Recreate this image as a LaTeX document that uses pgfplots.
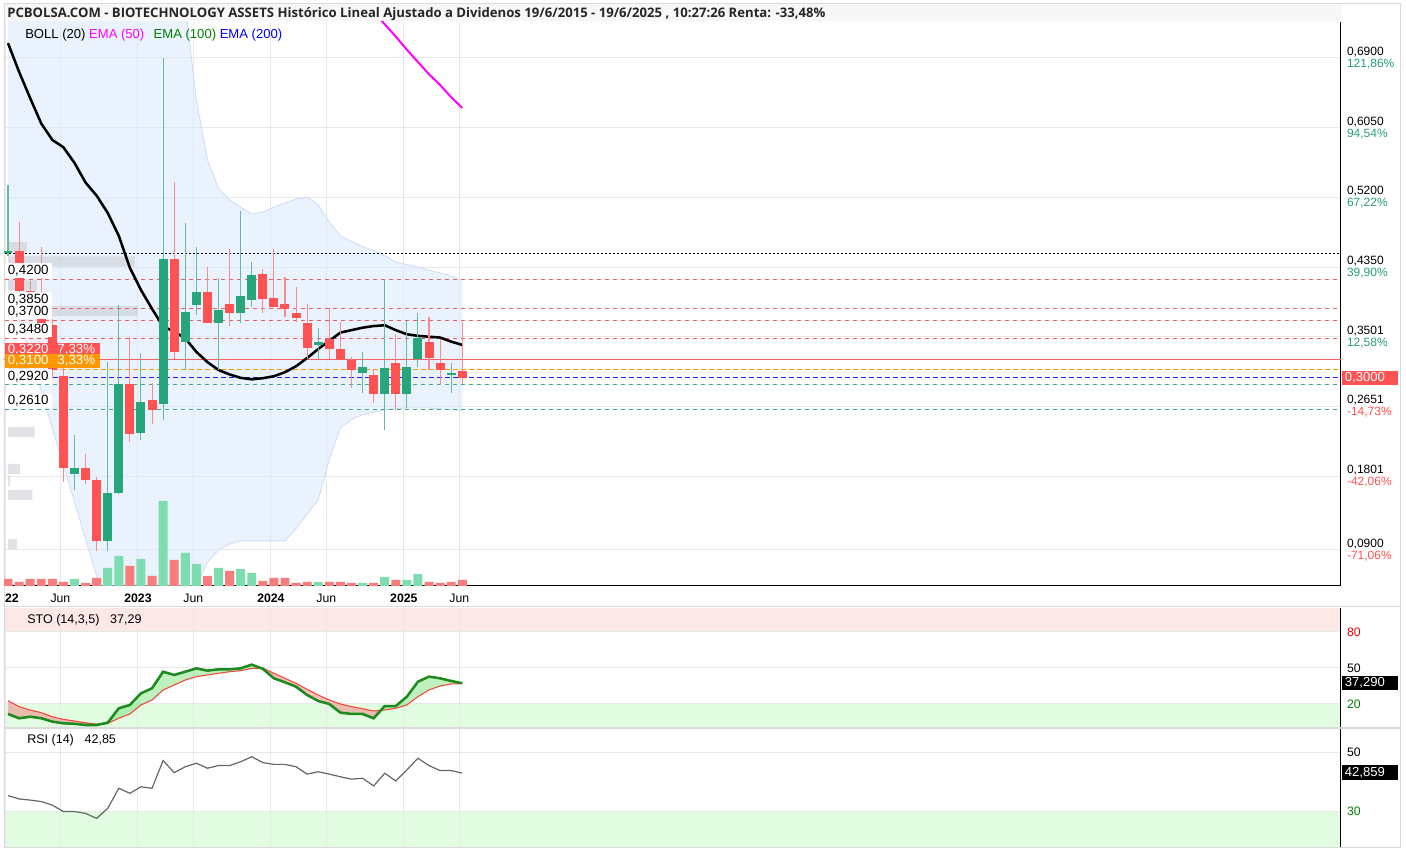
\documentclass[border=0pt]{standalone}
\usepackage{fontspec}
\setmainfont{Liberation Sans}
\newfontfamily\titlefont{Open Sans}
\usepackage{pgfplots}
\usepackage{pgfplotstable}
\pgfplotsset{compat=1.18}
\usepgfplotslibrary{fillbetween}

\definecolor{cgreen}{RGB}{38,166,122}
\definecolor{cred}{RGB}{255,82,82}
\definecolor{wgreen}{RGB}{100,188,156}
\definecolor{wred}{RGB}{246,140,140}
\definecolor{vgreen}{RGB}{125,221,176}
\definecolor{vred}{RGB}{247,125,125}
\definecolor{bollfill}{RGB}{220,233,252}
\definecolor{bolledge}{RGB}{205,220,242}
\definecolor{gridc}{RGB}{232,232,232}
\definecolor{framec}{RGB}{218,218,218}
\definecolor{pctgreen}{RGB}{38,160,115}
\definecolor{pctred}{RGB}{255,82,82}
\definecolor{lvlred}{RGB}{240,90,90}
\definecolor{lvlsolid}{RGB}{245,95,95}
\definecolor{lvlteal}{RGB}{60,170,130}
\definecolor{lvlorange}{RGB}{255,152,0}
\definecolor{lvlblue}{RGB}{30,30,230}
\definecolor{emaA}{RGB}{255,0,255}
\definecolor{emaB}{RGB}{0,128,0}
\definecolor{emaC}{RGB}{0,0,255}
\definecolor{stoK}{RGB}{28,138,28}
\definecolor{stoD}{RGB}{240,70,60}
\definecolor{pinkband}{RGB}{253,232,232}
\definecolor{greenband}{RGB}{226,252,226}
\definecolor{profile}{RGB}{200,203,210}
\definecolor{titlebg}{RGB}{247,247,247}
\definecolor{stolbl}{RGB}{230,0,0}

% monthly candles, m = months since Jan 2022 ; lo/hi = body, l/h = wick
\pgfplotstableread{
m  lo     hi     l      h
0  0.452  0.455  0.448  0.535
6  0.183  0.190  0.163  0.230
9  0.101  0.159  0.089  0.319
10 0.159  0.2924 0.158  0.389
12 0.233  0.270  0.224  0.330
14 0.268  0.445  0.248  0.690
16 0.3437 0.380  0.3095 0.489
17 0.3888 0.4046 0.3766 0.4595
19 0.3668 0.3827 0.3095 0.4217
21 0.379  0.3997 0.3668 0.5034
22 0.3949 0.4254 0.3863 0.4412
28 0.3400 0.3437 0.323  0.3607
32 0.306  0.3132 0.2815 0.3315
34 0.2802 0.312  0.236  0.4193
36 0.2802 0.3132 0.2632 0.369
37 0.3229 0.3485 0.3132 0.379
40 0.3034 0.3059 0.2815 0.318
}\greencandles

\pgfplotstableread{
m  lo     hi     l      h
1  0.406  0.455  0.400  0.490
2  0.392  0.406  0.380  0.418
3  0.366  0.390  0.355  0.4595
4  0.310  0.364  0.300  0.372
5  0.190  0.302  0.173  0.330
7  0.175  0.190  0.170  0.207
8  0.101  0.175  0.089  0.179
11 0.231  0.2924 0.222  0.350
13 0.261  0.273  0.244  0.294
15 0.331  0.445  0.323  0.539
18 0.3668 0.4046 0.3668 0.4351
20 0.379  0.390  0.363  0.457
23 0.3961 0.4266 0.379  0.4327
24 0.3863 0.3973 0.385  0.457
25 0.384  0.390  0.374  0.423
26 0.373  0.379  0.368  0.4107
27 0.3363 0.3668 0.323  0.390
29 0.3351 0.3473 0.323  0.385
30 0.3229 0.3351 0.3229 0.368
31 0.3095 0.3217 0.2876 0.3254
33 0.2802 0.3034 0.2693 0.3107
35 0.2802 0.318  0.2607 0.3534
38 0.3241 0.3437 0.3095 0.374
39 0.3095 0.318  0.2912 0.3473
41 0.300  0.3083 0.2924 0.368
}\redcandles

% volume (relative units)
\pgfplotstableread{
m v
6 7
9 18
10 30
12 27
14 85
16 33
17 22
19 18
21 17
22 13
28 4
32 3
34 9
36 6
37 12
}\volgreen

\pgfplotstableread{
m v
0 7
1 4
2 7
3 7
4 7
5 4
7 3
8 8
11 20
13 10
15 26
18 10
20 15
23 5
24 8
25 8
26 3
27 4
29 4
30 4
31 3
33 3
35 6
38 4
39 3
40 4
41 6
}\volred

% Bollinger (20)
\pgfplotstableread{
m  up     mid    lo
0  0.99   0.708  0.40
1  0.97   0.673  0.37
2  0.95   0.641  0.33
3  0.93   0.610  0.284
4  0.92   0.590  0.238
5  0.91   0.581  0.194
6  0.90   0.562  0.149
7  0.89   0.538  0.103
8  0.88   0.522  0.058
9  0.87   0.501  0.020
10 0.86   0.473  0.000
11 0.85   0.434  -0.010
12 0.83   0.407  0.000
13 0.81   0.384  0.005
14 0.79   0.3624 0.010
15 0.77   0.3563 0.015
16 0.755  0.348  0.021
17 0.639  0.3315 0.047
18 0.566  0.319  0.075
19 0.531  0.3094 0.090
20 0.517  0.304  0.097
21 0.508  0.2998 0.101
22 0.4998 0.298  0.101
23 0.502  0.2994 0.101
24 0.508  0.3018 0.101
25 0.513  0.3067 0.101
26 0.518  0.314  0.116
27 0.520  0.324  0.134
28 0.511  0.335  0.151
29 0.490  0.345  0.200
30 0.473  0.355  0.239
31 0.466  0.358  0.249
32 0.460  0.361  0.255
33 0.455  0.363  0.258
34 0.449  0.364  0.261
35 0.441  0.358  0.262
36 0.438  0.353  0.263
37 0.435  0.351  0.263
38 0.431  0.350  0.263
39 0.428  0.349  0.262
40 0.424  0.344  0.261
41 0.419  0.340  0.260
}\boll

% stochastic %K / %D and RSI
\pgfplotstableread{
m  k     d     rsi
0  11.7  22.8  35.2
1  8.1   17.8  34.1
2  9.4   15.0  33.7
3  8.1   12.8  33.2
4  5.3   9.4   32.0
5  3.9   7.2   29.8
6  3.5   5.8   29.8
7  2.5   4.4   29.2
8  2.5   3.1   27.5
9  4.4   3.9   30.9
10 16.4  8.1   37.7
11 19.2  11.7  36.0
12 28.9  19.2  38.2
13 33.1  23.3  37.7
14 46.9  31.7  47.1
15 44.2  35.8  43.0
16 46.9  40.0  45.0
17 49.7  42.8  46.2
18 47.8  44.2  44.5
19 48.9  45.6  45.4
20 48.9  46.9  45.4
21 49.7  47.8  46.7
22 52.8  49.7  48.4
23 49.3  49.9  46.4
24 41.4  45.6  45.8
25 38.1  41.4  45.8
26 34.4  37.2  45.0
27 27.5  32.2  42.5
28 22.5  27.5  43.3
29 20.0  23.3  42.5
30 12.8  20.0  41.6
31 11.7  17.8  40.8
32 11.7  16.1  41.1
33 8.1   14.2  38.5
34 18.3  15.0  42.8
35 18.3  16.4  40.2
36 26.1  19.2  43.9
37 38.6  26.1  47.9
38 42.8  31.7  45.4
39 41.4  35.0  43.7
40 39.2  36.7  43.7
41 37.3  37.0  42.85
}\osc

\pgfplotsset{
  panel/.style={
    set layers,
    scale only axis, width=1002.75pt,
    xmin=-0.361, xmax=120.31,
    axis x line*=bottom, axis y line*=right,
    y axis line style={draw=black, line width=0.75pt},
    xtick={-0.27,4.73,11.73,16.73,23.73,28.73,35.73,40.73},
    grid=major, grid style={draw=gridc, line width=0.75pt},
    tick style={draw=none},
    tick label style={font=\fontsize{9.2}{9.2}\selectfont},
    yticklabel style={anchor=west, xshift=1pt},
  },
  lvl/.style={line width=0.75pt, dash pattern=on 3pt off 3pt},
  candle/.style={forget plot, draw=none, no markers,
    error bars/.cd, y dir=plus, y explicit, error mark=none,
    error bar style={draw=#1}},
}

\begin{document}
\begin{tikzpicture}
% title bar and frame
\fill[titlebg] (3pt,623.25pt) rectangle (1006.5pt,636pt);
\draw[framec, line width=0.75pt] (3pt,3pt) rectangle (1050pt,636pt);
\draw[framec, line width=0.75pt] (3pt,183.75pt) -- (1050pt,183.75pt);
\draw[framec, line width=1pt] (3pt,93pt) -- (1050pt,93pt);
\node[anchor=west, inner sep=0pt, font=\titlefont\bfseries\fontsize{9.85}{10}\selectfont, text=black!85]
  at (5.25pt,628.6pt) {PCBOLSA.COM - BIOTECHNOLOGY ASSETS Histórico Lineal Ajustado a Dividenos 19/6/2015 - 19/6/2025 , 10:27:26 Renta: -33,48\%};

% ---------------- main price panel
\begin{axis}[panel, at={(3pt,199.5pt)}, anchor=south west, height=423pt,
  ymin=0.046, ymax=0.7338,
  x axis line style={draw=black, line width=0.75pt},
  xticklabels={\makebox[0pt][l]{\textbf{22}}, Jun, \textbf{2023}, Jun, \textbf{2024}, Jun, \textbf{2025}, Jun},
  xticklabel style={yshift=-2.5pt},
  ytick={0.09,0.1801,0.2651,0.3501,0.435,0.52,0.605,0.69},
  yticklabel style={align=left, font=\fontsize{9}{9}\selectfont},
  yticklabels={
    {0,0900\\\textcolor{pctred}{-71,06\%}},
    {0,1801\\\textcolor{pctred}{-42,06\%}},
    {0,2651\\\textcolor{pctred}{-14,73\%}},
    {0,3501\\\textcolor{pctgreen}{12,58\%}},
    {0,4350\\\textcolor{pctgreen}{39,90\%}},
    {0,5200\\\textcolor{pctgreen}{67,22\%}},
    {0,6050\\\textcolor{pctgreen}{94,54\%}},
    {0,6900\\\textcolor{pctgreen}{121,86\%}}},
]
% Bollinger band
\addplot[bolledge, line width=0.6pt, name path=bu] table[x=m, y=up] {\boll};
\addplot[bolledge, line width=0.6pt, name path=bl] table[x=m, y=lo] {\boll};
\addplot[fill=bollfill, fill opacity=0.6, draw=none] fill between[of=bu and bl];

% volume at price
\addplot[xbar, bar width=0.0125, fill=profile, fill opacity=0.55, draw=none] coordinates {
  (1.7,0.459) (11.46,0.4418) (2.6,0.4126) (11.73,0.3815) (2.0,0.3144)
  (2.4,0.2339) (1.1,0.1888) (0.2,0.174) (2.2,0.157) (0.8,0.0973)};

% volume
\addplot[ybar, bar width=0.81, fill=vgreen, draw=none] table[x=m, y expr=0.046+\thisrow{v}/820] {\volgreen};
\addplot[ybar, bar width=0.81, fill=vred, draw=none] table[x=m, y expr=0.046+\thisrow{v}/820] {\volred};

% price levels
\addplot[black, line width=0.75pt, dash pattern=on 1.5pt off 1.5pt] coordinates {(-1,0.451) (121,0.451)};
\addplot[lvlred, lvl] coordinates {(-1,0.42) (121,0.42)};
\addplot[lvlred, lvl] coordinates {(-1,0.385) (121,0.385)};
\addplot[lvlred, lvl] coordinates {(-1,0.37) (121,0.37)};
\addplot[lvlred, lvl] coordinates {(-1,0.348) (121,0.348)};
\addplot[lvlsolid, line width=0.9pt] coordinates {(-1,0.322) (121,0.322)};
\addplot[lvlorange, line width=1.1pt, dash pattern=on 3.5pt off 2.5pt] coordinates {(-1,0.31) (121,0.31)};
\addplot[lvlblue, line width=1.1pt, dash pattern=on 3.5pt off 2.5pt] coordinates {(-1,0.30) (121,0.30)};
\addplot[lvlteal, lvl] coordinates {(-1,0.292) (121,0.292)};
\addplot[lvlteal, lvl] coordinates {(-1,0.261) (121,0.261)};

% Bollinger middle
\addplot[black, line width=1.9pt] table[x=m, y=mid] {\boll};

% candles: wicks then bodies
\addplot[candle={wgreen, line width=0.8pt}]
  table[x=m, y=l, y error plus expr=\thisrow{h}-\thisrow{l}] {\greencandles};
\addplot[candle={wred, line width=0.8pt}]
  table[x=m, y=l, y error plus expr=\thisrow{h}-\thisrow{l}] {\redcandles};
\addplot[candle={cgreen, line width=6.75pt}]
  table[x=m, y=lo, y error plus expr=\thisrow{hi}-\thisrow{lo}] {\greencandles};
\addplot[candle={cred, line width=6.75pt}]
  table[x=m, y=lo, y error plus expr=\thisrow{hi}-\thisrow{lo}] {\redcandles};

% EMA (50)
\addplot[emaA, line width=1.5pt] coordinates {
  (33,0.746) (34,0.731) (35,0.716) (36,0.700) (37,0.685) (38,0.670) (39,0.657) (40,0.642) (41,0.629)};

% level labels
\begin{scope}[every node/.style={anchor=south west, inner xsep=2.4pt, inner ysep=1.3pt,
    font=\fontsize{10}{10}\selectfont}]
\node[fill=white] at (axis cs:-0.33,0.4215) {0,4200};
\node[fill=white] at (axis cs:-0.33,0.3865) {0,3850};
\node[fill=white] at (axis cs:-0.33,0.3712) {0,3700};
\node[fill=white] at (axis cs:-0.33,0.3492) {0,3480};
\node[fill=cred, text=white, align=left, text width=66.5pt] at (axis cs:-0.33,0.3245) {0,3220\ \ 7,33\%};
\node[fill=lvlorange, text=white, align=left, text width=66.5pt] at (axis cs:-0.33,0.3112) {0,3100\ \ 3,33\%};
\node[fill=white] at (axis cs:-0.33,0.2925) {0,2920};
\node[fill=white] at (axis cs:-0.33,0.2625) {0,2610};
\end{scope}
\end{axis}

% ---------------- stochastic panel
\begin{axis}[panel, at={(3pt,93pt)}, anchor=south west, height=90pt,
  ymin=0, ymax=100,
  x axis line style={draw=none},
  xticklabels={},
  ytick={20,50,80},
  yticklabels={\textcolor{emaB}{20}, 50, \textcolor{stolbl}{80}},
]
\addplot[fill=pinkband, draw=none, on layer=axis background] coordinates {(-0.361,80) (120.31,80) (120.31,100) (-0.361,100) (-0.361,80)};
\addplot[fill=greenband, draw=none, on layer=axis background] coordinates {(-0.361,0) (120.31,0) (120.31,20) (-0.361,20) (-0.361,0)};
\addplot[stoD, line width=0.8pt, name path=dp] table[x=m, y=d] {\osc};
\addplot[stoK, line width=1.9pt, name path=kp] table[x=m, y=k] {\osc};
\addplot[fill opacity=0.45, draw=none] fill between[of=kp and dp, split,
  every even segment/.style={fill={rgb,255:red,240;green,110;blue,110}},
  every odd segment/.style={fill={rgb,255:red,110;green,225;blue,110}}];
\end{axis}

% ---------------- RSI panel
\begin{axis}[panel, at={(3pt,3.75pt)}, anchor=south west, height=88.5pt,
  ymin=17.8, ymax=57.8,
  x axis line style={draw=none},
  xticklabels={},
  ytick={30,50},
  yticklabels={\textcolor{emaB}{30}, 50},
]
\addplot[fill=greenband, draw=none, on layer=axis background] coordinates {(-0.361,17.8) (120.31,17.8) (120.31,30) (-0.361,30) (-0.361,17.8)};
\addplot[black!60, line width=0.9pt] table[x=m, y=rsi] {\osc};
\end{axis}

% legends and value boxes
\node[anchor=west, inner sep=0pt, font=\fontsize{9.8}{10}\selectfont] at (18.75pt,612.75pt)
  {BOLL (20) \textcolor{emaA}{EMA (50)}\hspace{7pt}\textcolor{emaB}{EMA (100)} \textcolor{emaC}{EMA (200)}};
\node[anchor=west, inner sep=0pt, font=\fontsize{9.4}{10}\selectfont] at (20.25pt,174pt)
  {STO (14,3,5)\hspace{8pt}37,29};
\node[anchor=west, inner sep=0pt, font=\fontsize{9.4}{10}\selectfont] at (20.25pt,83.5pt)
  {RSI (14)\hspace{8pt}42,85};
\node[anchor=west, fill=cred, text=white, inner xsep=2pt, inner ysep=1.5pt, text width=38pt,
  font=\fontsize{9.8}{10}\selectfont] at (1006.5pt,355.5pt) {0,3000};
\node[anchor=west, fill=black, text=white, inner xsep=2pt, inner ysep=1.5pt, text width=38pt,
  font=\fontsize{9.8}{10}\selectfont] at (1006.5pt,126.75pt) {37,290};
\node[anchor=west, fill=black, text=white, inner xsep=2pt, inner ysep=1.5pt, text width=38pt,
  font=\fontsize{9.8}{10}\selectfont] at (1006.5pt,59.6pt) {42,859};

\pgfresetboundingbox
\path (0,0) rectangle (1054.5pt,639pt);
\end{tikzpicture}
\end{document}
